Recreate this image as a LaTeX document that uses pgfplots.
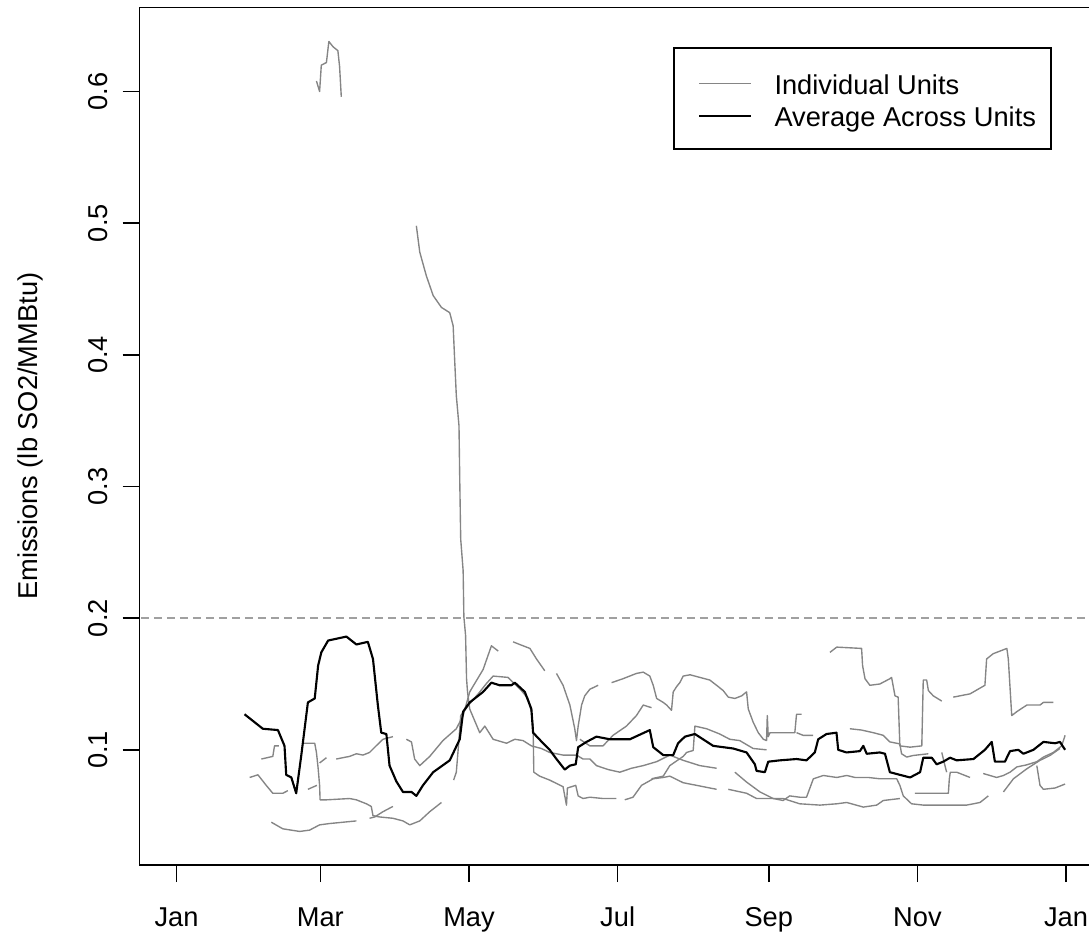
\documentclass[border=0pt]{standalone}
\usepackage{fontspec}
\setmainfont{Liberation Sans}
\usepackage{pgfplots}
\pgfplotsset{compat=1.18}
\definecolor{unitgray}{HTML}{858585}
\definecolor{refgray}{HTML}{A0A0A0}
\newcommand{\rfont}{\fontsize{10.9}{13}\selectfont}
\pgfplotsset{unit/.style={unitgray, line width=0.55pt, line join=round},
             avg/.style={black, line width=0.85pt, line join=round}}
\begin{document}
\begin{tikzpicture}
\begin{axis}[
  name=ax,
  scale only axis, width=384.76pt, height=343pt,
  xmin=-15.2, xmax=379.5, ymin=0.0125, ymax=0.6638,
  axis line style={line width=0.6pt},
  xtick={0,59,120,181,243,304,365},
  xticklabels={Jan,Mar,May,Jul,Sep,Nov,Jan},
  ytick={0.1,0.2,0.3,0.4,0.5,0.6},
  yticklabels={0.1,0.2,0.3,0.4,0.5,0.6},
  tick align=outside, major tick length=6.8pt,
  tick pos=left,
  every tick/.style={black, line width=0.6pt},
  tick label style={font=\rfont},
  /pgf/number format/assume math mode=true,
  xticklabel style={anchor=base, yshift=-17.6pt},
  yticklabel style={xshift=-6pt, rotate=90, anchor=base},
  ylabel={Emissions (lb SO2/MMBtu)},
  every axis y label/.style={at={(rel axis cs:0,0.5)}, rotate=90, anchor=base, yshift=40.6pt, font=\rfont},
  legend style={at={(rel axis cs:0.9484,0.9536)}, anchor=north east,
    draw=black, line width=0.6pt, fill=white, font=\rfont,
    inner xsep=6pt, inner ysep=7.2pt, row sep=0pt, column sep=9.1pt,
    nodes={inner sep=0pt, text height=11.2pt, text depth=1.8pt},
    cells={anchor=west}},
  legend image code/.code={\path (0pt,0pt); \draw[#1] (3.6pt,-0.5pt) -- (24.2pt,-0.5pt);},
]
% reference level
\addplot[refgray, line width=0.55pt, dash pattern=on 3.2pt off 2pt, forget plot] coordinates {(-20,0.2) (400,0.2)};

% individual units
\addplot[unit] coordinates {(57.4,0.608)(58.7,0.600)(59.4,0.620)(61.5,0.622)(62.5,0.638)(64.2,0.634)(66.2,0.631)(66.9,0.619)(67.6,0.596)};
\addlegendentry{Individual Units}
\addplot[unit, forget plot] coordinates {(98.4,0.498)(99.8,0.478)(102.5,0.460)(105.3,0.445)(108.7,0.436)(112.1,0.432)(113.5,0.422)(114.1,0.397)(114.8,0.369)(115.9,0.346)(116.2,0.306)(116.6,0.260)(117.6,0.236)(117.9,0.201)(118.6,0.187)(119,0.154)(119.4,0.144)(120.3,0.131)(124.4,0.113)(126.5,0.118)(129.9,0.108)(135.4,0.105)(138.8,0.108)(142.2,0.107)(145.6,0.103)(149.7,0.101)(153.1,0.098)(158.6,0.096)(164.1,0.096)(166.8,0.093)(169.6,0.093)(172.3,0.088)(177.1,0.085)(181.9,0.083)(186.7,0.086)(191.5,0.088)(197,0.091)(202.4,0.096)(207.9,0.092)(214.7,0.088)(221.6,0.086)};
\addplot[unit, forget plot] coordinates {(94.3,0.108)(96.4,0.106)(97.7,0.093)(99.8,0.088)(103.9,0.095)(109.3,0.107)(114.8,0.116)(117.6,0.126)(120.3,0.144)(125.8,0.161)(129.2,0.179)(132,0.175)};
\addplot[unit, forget plot] coordinates {(138.1,0.182)(140.8,0.180)(145,0.177)(147.7,0.169)(151.1,0.160)};
\addplot[unit, forget plot] coordinates {(155.9,0.158)(158.6,0.149)(161.4,0.134)(163.4,0.116)(164.1,0.107)(164.8,0.118)(166.2,0.134)(167.5,0.141)(169.6,0.146)(173,0.149)};
\addplot[unit, forget plot] coordinates {(178.5,0.151)(183.2,0.154)(188.7,0.158)(191.5,0.159)(194.2,0.156)(195.6,0.149)(197,0.139)(199.7,0.136)(201.1,0.134)(203.1,0.130)(203.8,0.144)(205.2,0.148)(206.5,0.151)(207.9,0.156)(210.7,0.157)(214.7,0.155)(218.8,0.153)(221.6,0.149)(224.3,0.145)(226.4,0.140)(229.1,0.139)(231.9,0.141)(233.9,0.144)(234.6,0.131)(236.6,0.121)(238.7,0.113)(240.8,0.108)(242.1,0.107)(242.4,0.126)(242.8,0.110)(243.5,0.113)(253,0.113)(253.7,0.113)(254.4,0.127)(256.5,0.127)};
\addplot[unit, forget plot] coordinates {(254.4,0.113)(257.1,0.111)(261.2,0.111)};
\addplot[unit, forget plot] coordinates {(58.7,0.090)(61.5,0.094)};
\addplot[unit, forget plot] coordinates {(65.5,0.093)(71,0.095)(73.8,0.097)(76.5,0.096)(79.2,0.098)(81.9,0.103)(84.7,0.108)(88.8,0.110)};
\addplot[unit, forget plot] coordinates {(53.9,0.070)(57.6,0.073)};
\addplot[unit, forget plot] coordinates {(51.9,0.105)(56.7,0.105)(57.4,0.098)(58.1,0.086)(58.7,0.073)(58.9,0.062)(61.5,0.062)(71,0.063)(73.8,0.062)(77.9,0.059)(79.9,0.057)(80.6,0.050)(83.3,0.049)(88.8,0.048)(92.9,0.046)(95.7,0.043)(99.8,0.046)(103.9,0.053)(108.7,0.060)};
\addplot[unit, forget plot] coordinates {(34.8,0.093)(39.5,0.095)(40.2,0.103)(42,0.103)};
\addplot[unit, forget plot] coordinates {(30,0.079)(33.4,0.081)(36.8,0.073)(39.5,0.067)(43.6,0.067)(45.7,0.069)};
\addplot[unit, forget plot] coordinates {(38.9,0.045)(43.6,0.040)(50.5,0.038)(54.6,0.039)(58.7,0.043)(62.8,0.044)(68.3,0.045)(73.8,0.046)};
\addplot[unit, forget plot] coordinates {(79.2,0.048)(81.3,0.049)(84.7,0.053)(88.8,0.057)};
\addplot[unit, forget plot] coordinates {(113.7,0.077)(114.8,0.083)(115.9,0.108)(116.6,0.126)(120.3,0.135)(124,0.143)(127,0.150)(129.9,0.156)(136,0.155)(138.2,0.151)(141.5,0.145)(144.2,0.139)(145.6,0.129)(146.3,0.118)(146.6,0.083)(149,0.080)(153.1,0.077)(158.6,0.072)(160,0.058)(160.4,0.071)(163.8,0.073)(164.8,0.065)(166.8,0.063)(169.6,0.064)(175,0.063)(180.5,0.063)};
\addplot[unit, forget plot] coordinates {(183.9,0.062)(187.3,0.064)(190.8,0.073)(195.6,0.078)(199.7,0.079)(202.4,0.080)(207.9,0.075)(213.4,0.073)(221.6,0.070)};
\addplot[unit, forget plot] coordinates {(165.5,0.108)(169.6,0.103)(175,0.103)(179.1,0.111)(184.6,0.118)(188.7,0.126)(191.5,0.134)(194.9,0.132)};
\addplot[unit, forget plot] coordinates {(194.9,0.078)(199.7,0.080)(202.4,0.088)(207.9,0.095)(209.3,0.098)(212,0.0995)(212.7,0.118)(217.5,0.116)(222.9,0.112)(227,0.108)(231.1,0.107)(236.6,0.101)(242.1,0.100)};
\addplot[unit, forget plot] coordinates {(229.1,0.083)(233.9,0.0755)(239.4,0.068)(244.8,0.063)(248.9,0.0615)(251.6,0.065)(255.7,0.064)(258.5,0.064)(261.3,0.078)(265.4,0.0805)(270.9,0.079)(275,0.0805)(278.4,0.079)(283.8,0.079)(288.6,0.078)(292.7,0.078)(295.5,0.078)(296.8,0.073)(298.2,0.065)(301.6,0.059)(306.4,0.058)(310.5,0.058)(317.4,0.058)(324.2,0.058)(329.7,0.060)(333.1,0.065)};
\addplot[unit, forget plot] coordinates {(226.4,0.070)(233.9,0.067)(238,0.063)(248.9,0.063)(255.7,0.059)(264,0.058)(270.9,0.059)(275,0.060)(281.8,0.0565)(287.3,0.058)(290,0.0615)(296.8,0.063)};
\addplot[unit, forget plot] coordinates {(303,0.067)(316.7,0.067)(317.1,0.078)(317.5,0.083)(320.1,0.083)(325.6,0.079)};
\addplot[unit, forget plot] coordinates {(331,0.082)(336.5,0.079)(339.3,0.0805)(342,0.083)(344.8,0.087)(348.9,0.0886)(353,0.091)(355.7,0.0945)(359.8,0.098)(363.2,0.103)(364.6,0.111)};
\addplot[unit, forget plot] coordinates {(314,0.098)(315.3,0.088)(316,0.083)};
\addplot[unit, forget plot] coordinates {(339.3,0.068)(343.4,0.078)(348.9,0.0856)(354.3,0.092)(358.4,0.0957)(362.5,0.101)};
\addplot[unit, forget plot] coordinates {(353,0.088)(354.3,0.073)(355.7,0.070)(360.5,0.071)(364.6,0.074)};
\addplot[unit, forget plot] coordinates {(276.3,0.116)(281.1,0.115)(285.9,0.113)(290,0.111)(292.7,0.106)(296.8,0.1045)(297.5,0.097)(299.6,0.0945)(302.3,0.0957)(308.5,0.097)};
\addplot[unit, forget plot] coordinates {(268.1,0.174)(270.9,0.178)(281.1,0.177)(281.5,0.164)(282.5,0.154)(284.5,0.149)(288.6,0.150)(292.7,0.154)(293.4,0.155)(294.1,0.148)(294.8,0.141)(296.1,0.140)(296.8,0.103)(301,0.102)(305.8,0.103)(306.4,0.153)(307.8,0.153)(308.5,0.145)(310.5,0.141)(314,0.137)};
\addplot[unit, forget plot] coordinates {(318.7,0.140)(325.6,0.1425)(331.7,0.149)(332.4,0.169)(335.1,0.173)(337.9,0.175)(340.7,0.177)(341.3,0.169)(342.7,0.126)(344.8,0.129)(348.9,0.134)(354.3,0.134)(355.7,0.136)(359.8,0.136)};

% average
\addplot[avg] coordinates {(27.9,0.127)(35.4,0.116)(41.6,0.115)(44.3,0.103)(45,0.081)(47.1,0.079)(49.1,0.067)(51.2,0.096)(53.9,0.136)(56.7,0.139)(58.1,0.164)(59.4,0.174)(62.2,0.183)(69.7,0.186)(73.8,0.180)(78.5,0.182)(80.6,0.169)(82.6,0.134)(84,0.113)(86.1,0.112)(87.4,0.088)(90.2,0.076)(92.9,0.068)(96.4,0.068)(98.4,0.065)(101.1,0.073)(105.3,0.083)(112.1,0.092)(116.2,0.108)(117.6,0.129)(120.3,0.136)(125.8,0.144)(129.2,0.151)(132.6,0.149)(137.4,0.149)(138.8,0.151)(142.9,0.144)(145.6,0.131)(146.3,0.113)(150.4,0.105)(153.1,0.100)(155.9,0.093)(159.3,0.085)(161.4,0.088)(163.8,0.089)(164.8,0.102)(168.2,0.106)(172.3,0.110)(177.8,0.108)(186,0.108)(194.2,0.115)(195.6,0.102)(199.7,0.096)(203.8,0.096)(205.8,0.105)(208.6,0.110)(212.7,0.112)(220.2,0.103)(228.4,0.101)(233.9,0.098)(237.3,0.089)(238,0.084)(241.4,0.083)(242.8,0.091)(247.6,0.092)(254.4,0.093)(258.5,0.092)(261.9,0.098)(263.3,0.108)(266.7,0.112)(270.8,0.113)(271.5,0.100)(274.9,0.098)(280.4,0.099)(281.8,0.103)(283.2,0.097)(288.6,0.098)(290.7,0.097)(292.7,0.083)(296.8,0.081)(301,0.079)(305.1,0.083)(306.4,0.094)(309.9,0.094)(311.9,0.089)(314.6,0.091)(317.4,0.094)(320.1,0.092)(327,0.093)(331.7,0.100)(334.5,0.106)(335.8,0.091)(339.9,0.091)(342,0.099)(345.4,0.100)(347.5,0.097)(351.6,0.100)(355.7,0.106)(360.5,0.105)(362.5,0.106)(364.6,0.100)};
\addlegendentry{Average Across Units}
\end{axis}
\pgfresetboundingbox
\path[use as bounding box] ([shift={(-55.8pt,-27.2pt)}]ax.south west) rectangle ++(435.6pt,373.2pt);
\end{tikzpicture}
\end{document}
